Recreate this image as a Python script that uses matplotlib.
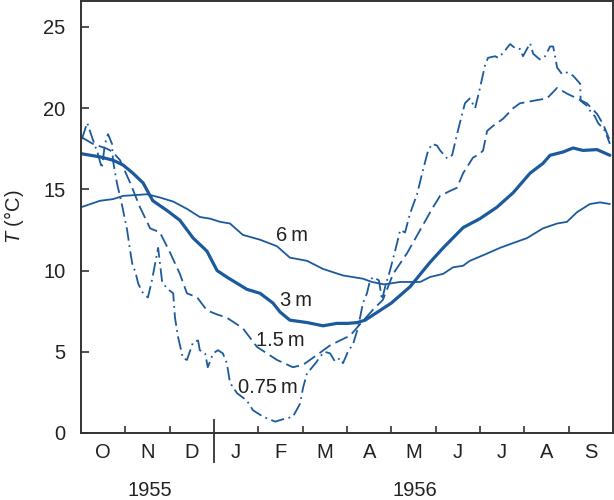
import matplotlib
matplotlib.use("Agg")
import matplotlib.pyplot as plt
import matplotlib.transforms as mtransforms

plt.rcParams['font.family'] = ['Liberation Sans', 'DejaVu Sans']
plt.rcParams['mathtext.fontset'] = 'custom'
plt.rcParams['mathtext.it'] = 'Liberation Sans:italic'
plt.rcParams['mathtext.rm'] = 'Liberation Sans'

# x = months since 1 Oct 1955
month_labels = ['O', 'N', 'D', 'J', 'F', 'M', 'A', 'M', 'J', 'J', 'A', 'S']
year_labels = ['1955', '1956']
series_labels = ['6\u2009m', '3\u2009m', '1.5\u2009m', '0.75\u2009m']

x_6m = [0, 0.43, 0.72, 0.95, 1.49, 1.78, 2.08, 2.39, 2.68, 2.91, 3.14, 3.36, 3.65, 4.04,
        4.42, 4.71, 5.10, 5.46, 5.91, 6.36, 6.56, 6.84, 7.20, 7.65, 7.87, 8.17, 8.39, 8.62,
        8.77, 9.16, 9.45, 9.75, 10.06, 10.42, 10.74, 10.96, 11.19, 11.48, 11.71, 11.93]
t_6m = [13.9, 14.3, 14.4, 14.6, 14.7, 14.5, 14.25, 13.8, 13.3, 13.2, 13.0, 12.9, 12.2, 11.9,
        11.5, 10.8, 10.6, 10.1, 9.7, 9.5, 9.3, 9.15, 9.3, 9.3, 9.6, 9.8, 10.2, 10.3,
        10.6, 11.05, 11.4, 11.7, 12.0, 12.6, 12.9, 13.0, 13.6, 14.1, 14.2, 14.1]

x_3m = [0, 0.43, 0.72, 0.95, 1.17, 1.40, 1.62, 1.94, 2.23, 2.53, 2.84, 3.07, 3.29, 3.74,
        4.04, 4.33, 4.49, 4.71, 5.10, 5.46, 5.77, 6.02, 6.23, 6.41, 7.00, 7.42, 7.87, 8.17,
        8.62, 9.00, 9.38, 9.75, 10.13, 10.42, 10.58, 10.87, 11.10, 11.32, 11.64, 11.93]
t_3m = [17.2, 17.0, 16.8, 16.5, 16.0, 15.4, 14.3, 13.7, 13.1, 12.0, 11.2, 10.0, 9.6, 8.85,
        8.6, 8.0, 7.45, 6.95, 6.8, 6.6, 6.75, 6.75, 6.8, 6.95, 8.0, 9.0, 10.5, 11.4,
        12.65, 13.2, 13.9, 14.8, 16.0, 16.6, 17.1, 17.3, 17.55, 17.4, 17.45, 17.1]

x_15m = [0.02, 0.27, 0.59, 0.72, 0.88, 1.11, 1.33, 1.56, 1.78, 2.01, 2.23, 2.39, 2.62, 2.84,
         3.07, 3.29, 3.65, 3.97, 4.42, 4.78, 5.01, 5.32, 5.62, 6.07, 6.36, 6.59, 6.81, 7.04,
         7.35, 7.65, 7.94, 8.10, 8.32, 8.48, 8.62, 8.84, 9.00, 9.07, 9.16, 9.29, 9.52, 9.75,
         9.90, 10.29, 10.51, 10.74, 10.96, 11.19, 11.41, 11.64, 11.78, 11.93]
t_15m = [18.2, 17.8, 17.5, 17.3, 16.8, 15.4, 13.9, 12.6, 12.35, 11.1, 9.8, 8.6, 8.35, 7.55,
         7.3, 7.1, 6.45, 5.3, 4.5, 4.05, 4.2, 4.8, 5.4, 6.0, 6.9, 7.6, 8.2, 9.8,
         11.05, 12.5, 13.9, 14.6, 14.9, 15.1, 16.0, 16.95, 17.2, 17.4, 18.6, 18.9, 19.35, 20.0,
         20.3, 20.5, 20.6, 21.25, 20.9, 20.6, 20.3, 19.65, 19.0, 18.0]

x_075m = [0.02, 0.14, 0.25, 0.38, 0.47, 0.54, 0.61, 0.70, 0.72, 0.81, 0.92, 1.04, 1.11, 1.17,
          1.22, 1.29, 1.40, 1.51, 1.60, 1.67, 1.74, 1.83, 1.94, 2.08, 2.12, 2.19, 2.30, 2.39,
          2.53, 2.64, 2.68, 2.80, 2.86, 2.98, 3.09, 3.20, 3.29, 3.36, 3.52, 3.74, 3.88, 4.11,
          4.38, 4.56, 4.78, 4.94, 5.01, 5.10, 5.17, 5.32, 5.39, 5.50, 5.62, 5.73, 5.84, 5.91,
          6.02, 6.14, 6.25, 6.36, 6.45, 6.52, 6.59, 6.72, 6.79, 6.86, 6.97, 7.13, 7.20, 7.31,
          7.42, 7.58, 7.71, 7.83, 7.92, 8.03, 8.10, 8.26, 8.37, 8.50, 8.66, 8.77, 8.89, 9.00,
          9.11, 9.18, 9.34, 9.41, 9.52, 9.68, 9.79, 9.90, 9.97, 10.13, 10.20, 10.35, 10.47,
          10.58, 10.65, 10.74, 10.85, 10.96, 11.10, 11.26, 11.27, 11.41, 11.48, 11.59, 11.66,
          11.82, 11.93]
t_075m = [18.1, 19.1, 18.2, 17.2, 16.3, 17.8, 18.4, 17.8, 16.8, 15.4, 14.1, 12.5, 11.2, 10.2,
          10.0, 9.2, 8.6, 8.35, 9.4, 10.4, 11.4, 9.3, 8.9, 8.6, 7.1, 5.9, 4.6, 4.5,
          5.6, 5.7, 5.1, 4.9, 4.05, 4.9, 5.1, 4.9, 4.3, 3.1, 2.45, 2.0, 1.4, 1.0,
          0.7, 0.85, 1.0, 1.8, 2.8, 3.7, 3.9, 4.4, 4.7, 5.0, 4.9, 4.4, 4.6, 4.3,
          5.0, 5.5, 6.5, 8.0, 8.6, 9.4, 9.6, 9.4, 8.2, 9.0, 10.0, 11.7, 12.5, 12.35,
          13.5, 14.7, 16.15, 17.4, 17.8, 17.7, 17.4, 16.9, 17.1, 18.6, 20.3, 20.6, 20.0, 21.25,
          22.6, 23.1, 23.2, 23.1, 23.4, 23.95, 23.7, 23.65, 23.2, 24.0, 23.35, 23.0, 23.2,
          23.8, 23.8, 22.5, 22.1, 22.2, 22.0, 21.5, 20.45, 20.15, 19.85, 19.5, 19.1,
          18.6, 17.8]

color = '#1b5a9c'
axis_color = '#333333'
text_color = '#222222'
fs = 14.5

fig = plt.figure(figsize=(6.14, 5.0), dpi=100)
ax = fig.add_axes([81/614, 67/500, 532/614, 432/500])

ax.plot(x_6m, t_6m, color=color, lw=1.3, solid_joinstyle='round', solid_capstyle='round')
ax.plot(x_3m, t_3m, color=color, lw=2.3, solid_joinstyle='round', solid_capstyle='round')
ax.plot(x_15m, t_15m, color=color, lw=1.3, linestyle=(0, (7.5, 3)))
ax.plot(x_075m, t_075m, color=color, lw=1.3, linestyle=(0, (7.5, 2.5, 1, 2.5)))

ax.set_xlim(0, 12)
ax.set_ylim(0, 26.6)

for s in ax.spines.values():
    s.set_color(axis_color)
    s.set_linewidth(1.4)

ax.set_yticks([0, 5, 10, 15, 20, 25])
ax.tick_params(axis='y', direction='in', length=6, width=1.2, color=axis_color,
               labelsize=fs, pad=11, labelcolor=text_color)
ax.set_xticks([1, 2, 4, 5, 6, 7, 8, 9, 10, 11])
ax.set_xticks([m + 0.5 for m in range(12)], minor=True)
ax.set_xticklabels([])
ax.set_xticklabels(month_labels, minor=True)
ax.tick_params(axis='x', which='major', direction='in', length=5, width=1.2, color=axis_color)
ax.tick_params(axis='x', which='minor', length=0, labelsize=fs, pad=7, labelcolor=text_color)

trans = mtransforms.blended_transform_factory(ax.transData, ax.transAxes)
ax.plot([3, 3], [-0.067, 0.03], transform=trans, color=axis_color, lw=1.3, clip_on=False)
ax.text(1.56, -0.132, year_labels[0], transform=trans, ha='center', va='center',
        fontsize=fs, color=text_color)
ax.text(7.53, -0.132, year_labels[1], transform=trans, ha='center', va='center',
        fontsize=fs, color=text_color)

ax.set_ylabel(r'$T$ (°C)', fontsize=fs, color=text_color)
ax.yaxis.set_label_coords(-0.104, 0.5)

ax.text(4.76, 12.16, series_labels[0], fontsize=fs, ha='center', va='center', color=text_color)
ax.text(4.85, 8.17, series_labels[1], fontsize=fs, ha='center', va='center', color=text_color)
ax.text(4.49, 5.71, series_labels[2], fontsize=fs, ha='center', va='center', color=text_color)
ax.text(4.22, 2.83, series_labels[3], fontsize=fs, ha='center', va='center', color=text_color)

fig.savefig('out.png', dpi=100)
